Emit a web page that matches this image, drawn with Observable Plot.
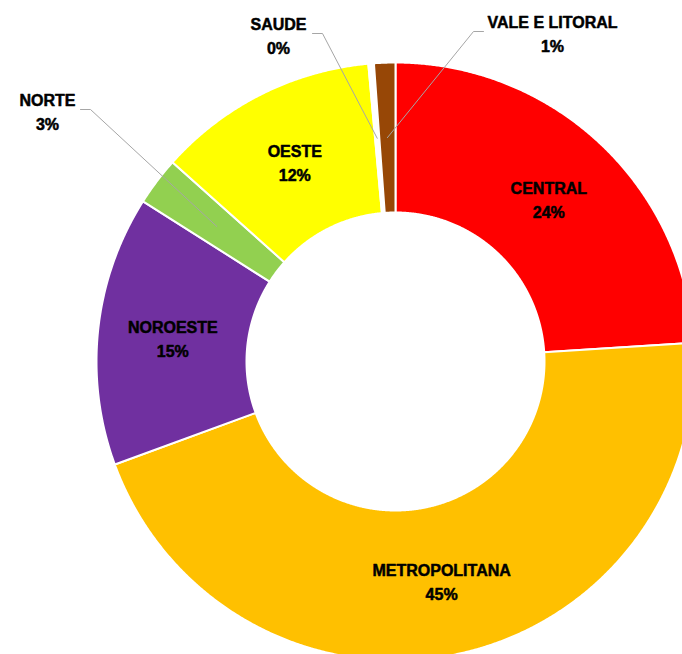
<!DOCTYPE html>
<html>
<head>
<meta charset="utf-8">
<script src="https://cdn.jsdelivr.net/npm/d3@7"></script>
<script src="https://cdn.jsdelivr.net/npm/@observablehq/plot@0.6"></script>
<style>
  html, body { margin: 0; padding: 0; background: #ffffff; overflow: hidden; }
  #chart svg { overflow: hidden; display: block; }
</style>
</head>
<body>
<div id="chart"></div>
<script>
// ---- data ----
const categories = ["CENTRAL", "METROPOLITANA", "NOROESTE", "NORTE", "OESTE", "SAUDE", "VALE E LITORAL"];
const shares = [24.0, 45.4, 14.6, 2.6, 11.95, 0.3, 1.15];
const colors = ["#FF0000", "#FFC000", "#7030A0", "#92D050", "#FFFF00", "#FFFFFF", "#974706"];

// labels placed outside the ring (manually moved in the original), in chart units
const outsideLabels = [
  {name: "NORTE", lx: -348, ly: 251, ex: -315, ey: 252, bx: -305},
  {name: "SAUDE", lx: -117, ly: 327, ex: -83, ey: 328, bx: -73},
  {name: "VALE E LITORAL", lx: 157, ly: 329, ex: 88, ey: 330, bx: 78}
];

// ---- geometry (ring in units where outer radius = 299) ----
const R = 299, r = 149, labelR = 224;
const total = d3.sum(shares);
let cum = 0;
const slices = categories.map((name, i) => {
  const a0 = cum / total * 2 * Math.PI;
  cum += shares[i];
  const a1 = cum / total * 2 * Math.PI;
  return {name, value: shares[i], color: colors[i], a0, a1, mid: (a0 + a1) / 2};
});

const ringPts = [];
for (const s of slices) {
  const n = Math.max(2, Math.ceil((s.a1 - s.a0) / (Math.PI / 720)));
  for (let k = 0; k <= n; k++) {
    const a = s.a0 + (s.a1 - s.a0) * k / n;
    ringPts.push({name: s.name, x: R * Math.sin(a), y: R * Math.cos(a)});
  }
  for (let k = n; k >= 0; k--) {
    const a = s.a0 + (s.a1 - s.a0) * k / n;
    ringPts.push({name: s.name, x: r * Math.sin(a), y: r * Math.cos(a)});
  }
}

const outsideNames = new Set(outsideLabels.map(d => d.name));
const insideText = slices.filter(s => !outsideNames.has(s.name)).map(s => ({
  x: labelR * Math.sin(s.mid), y: labelR * Math.cos(s.mid),
  text: s.name + "\n" + Math.round(s.value) + "%"
}));
const outsideText = outsideLabels.map(o => {
  const s = slices.find(d => d.name === o.name);
  return {x: o.lx, y: o.ly, text: s.name + "\n" + Math.round(s.value) + "%"};
});
const leaderPts = [];
for (const o of outsideLabels) {
  const s = slices.find(d => d.name === o.name);
  leaderPts.push({name: o.name, x: o.ex, y: o.ey});
  leaderPts.push({name: o.name, x: o.bx, y: o.ey});
  leaderPts.push({name: o.name, x: labelR * Math.sin(s.mid), y: labelR * Math.cos(s.mid)});
}

const font = "'Liberation Sans', Arial, sans-serif";
const textOpts = {x: "x", y: "y", text: "text", fontSize: 16, fontWeight: "bold", fontFamily: font,
  lineHeight: 1.5, fill: "#000000", stroke: "#000000", strokeWidth: 0.5};
const chart = Plot.plot({
  width: 682,
  height: 654,
  margin: 0,
  style: {background: "#ffffff", overflow: "hidden"},
  x: {domain: [-395, 287], range: [0, 682], axis: null},
  y: {domain: [-293, 361], range: [654, 0], axis: null},
  color: {domain: categories, range: colors},
  marks: [
    Plot.line(ringPts, {x: "x", y: "y", z: "name", fill: "name", stroke: "#ffffff", strokeWidth: 2, curve: "linear-closed"}),
    Plot.line(leaderPts, {x: "x", y: "y", z: "name", stroke: "#A6A6A6", strokeWidth: 1}),
    Plot.text(insideText, textOpts),
    Plot.text(outsideText, textOpts)
  ]
});
document.getElementById("chart").appendChild(chart);
</script>
</body>
</html>
